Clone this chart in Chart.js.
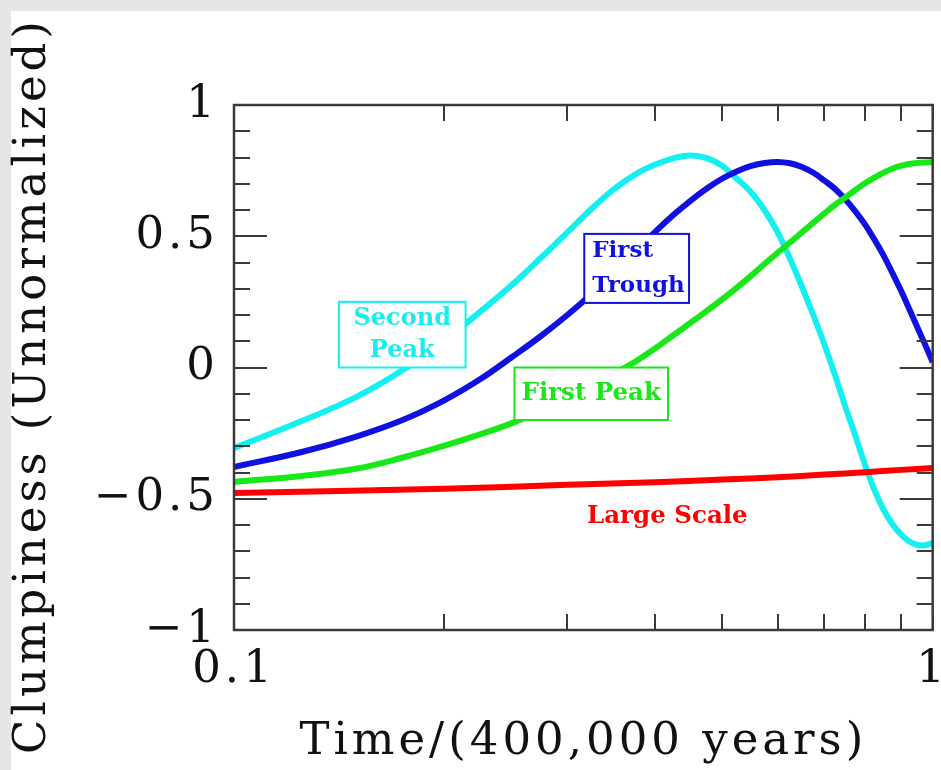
<!DOCTYPE html>
<html>
<head>
<meta charset="utf-8">
<title>Clumpiness</title>
<script src="https://cdn.jsdelivr.net/npm/chart.js@4.4.1/dist/chart.umd.min.js"></script>
<style>
    html, body { margin: 0; padding: 0; overflow: hidden; background: #fff; }
    canvas { display: block; }
</style>
</head>
<body>
<canvas id="myChart" width="960" height="770"></canvas>
<script>
// time, in units of 400,000 years
var times = [0.1, 0.125, 0.15, 0.175, 0.2, 0.225, 0.25, 0.275, 0.3, 0.325,
    0.35, 0.375, 0.4, 0.425, 0.45, 0.475, 0.5, 0.525, 0.55, 0.575,
    0.6, 0.625, 0.65, 0.675, 0.7, 0.725, 0.75, 0.775, 0.8, 0.825,
    0.85, 0.875, 0.9, 0.925, 0.95, 0.975, 1.0];

var secondPeak = [-0.307, -0.204, -0.111, -0.007, 0.103, 0.212, 0.315, 0.418, 0.515, 0.605,
    0.68, 0.735, 0.772, 0.797, 0.808, 0.798, 0.768, 0.718, 0.667, 0.598,
    0.515, 0.414, 0.307, 0.198, 0.087, -0.03, -0.15, -0.26, -0.37, -0.465,
    -0.54, -0.595, -0.635, -0.662, -0.676, -0.677, -0.668];

var firstTrough = [-0.379, -0.322, -0.262, -0.198, -0.125, -0.045, 0.04, 0.12, 0.2, 0.28,
    0.36, 0.44, 0.515, 0.58, 0.635, 0.682, 0.72, 0.748, 0.768, 0.779,
    0.783, 0.778, 0.764, 0.742, 0.712, 0.68, 0.64, 0.595, 0.545, 0.488,
    0.428, 0.362, 0.295, 0.225, 0.155, 0.088, 0.02];

var firstPeak = [-0.436, -0.413, -0.385, -0.342, -0.298, -0.255, -0.212, -0.165, -0.115, -0.068,
    -0.022, 0.022, 0.072, 0.122, 0.17, 0.216, 0.26, 0.305, 0.35, 0.395,
    0.437, 0.476, 0.515, 0.552, 0.587, 0.62, 0.648, 0.676, 0.702, 0.723,
    0.742, 0.757, 0.768, 0.775, 0.779, 0.781, 0.782];

var scaleTimes = [0.1, 0.2, 0.3, 0.4, 0.5, 0.6, 0.7, 0.8, 0.9, 1.0];
var largeScale = [-0.478, -0.462, -0.447, -0.437, -0.427, -0.418, -0.408, -0.399, -0.39, -0.383];

var xTickValues = [0.1, 1];
var xTickText = ['0.1', '1'];
var yTickValues = [-1, -0.5, 0, 0.5, 1];
var yTickText = ['\u22121', '\u22120.5', '0', '0.5', '1'];

var xTitle = 'Time/(400,000 years)';
var yTitle = 'Clumpiness (Unnormalized)';

var cyan = 'rgb(20, 240, 240)';
var blue = 'rgb(16, 16, 225)';
var green = 'rgb(24, 232, 24)';
var red = 'rgb(255, 0, 0)';

// boxed labels, given in data coordinates: [t left, t right, y top, y bottom]
var notes = [
    {lines: ['Second', 'Peak'], color: cyan, box: [0.1413, 0.2145, 0.25, 0.0], align: 'center', frame: true, size: 24},
    {lines: ['First', 'Trough'], color: blue, box: [0.3172, 0.448, 0.509, 0.246], align: 'left', frame: true, size: 23},
    {lines: ['First Peak'], color: green, box: [0.252, 0.418, 0.0, -0.2], align: 'center', frame: true, size: 24.5},
    {lines: ['Large Scale'], color: red, box: [0.35, 0.497, -0.5, -0.64], align: 'center', frame: false, size: 24.5}
];

var axisFont = '"DejaVu Serif", serif';
var axisSize = 45;

function points(xs, ys) {
    var list = [];
    for (var i = 0; i < xs.length; i++) {
        list.push({x: xs[i], y: ys[i]});
    }
    return list;
}

function pickLabel(value, values, text) {
    for (var i = 0; i < values.length; i++) {
        if (Math.abs(value - values[i]) < 1e-6) {
            return text[i];
        }
    }
    return '';
}

function drawNotes(chart) {
    var ctx = chart.ctx;
    var xs = chart.scales.x;
    var ys = chart.scales.y;

    for (var i = 0; i < notes.length; i++) {
        var n = notes[i];
        var left = xs.getPixelForValue(n.box[0]);
        var right = xs.getPixelForValue(n.box[1]);
        var top = ys.getPixelForValue(n.box[2]);
        var bottom = ys.getPixelForValue(n.box[3]);

        ctx.save();
        ctx.letterSpacing = '0px';
        if (n.frame) {
            ctx.fillStyle = '#fff';
            ctx.fillRect(left, top, right - left, bottom - top);
            ctx.strokeStyle = n.color;
            ctx.lineWidth = 2;
            ctx.strokeRect(left, top, right - left, bottom - top);
        }
        ctx.fillStyle = n.color;
        ctx.font = 'bold ' + n.size + 'px "DejaVu Serif"';
        ctx.textBaseline = 'middle';
        ctx.textAlign = n.align;
        var tx = (n.align == 'left') ? left + 8 : (left + right) / 2;
        var h = (bottom - top) / n.lines.length;
        for (var j = 0; j < n.lines.length; j++) {
            ctx.fillText(n.lines[j], tx, top + h * (j + 0.5));
        }
        ctx.restore();
    }
}

function drawFrame(chart) {
    var ctx = chart.ctx;
    var a = chart.chartArea;
    var xs = chart.scales.x;
    var ys = chart.scales.y;

    ctx.save();
    ctx.strokeStyle = '#3a3a3a';
    ctx.lineWidth = 2;
    ctx.beginPath();
    // inward ticks, long ones at every 0.5
    ys.ticks.forEach(function(t) {
        var py = Math.round(ys.getPixelForValue(t.value));
        var len = (Math.round(t.value * 10) % 5 == 0) ? 33 : 16;
        ctx.moveTo(a.left, py);
        ctx.lineTo(a.left + len, py);
        ctx.moveTo(a.right, py);
        ctx.lineTo(a.right - len, py);
    });
    xs.ticks.forEach(function(t) {
        var px = Math.round(xs.getPixelForValue(t.value));
        ctx.moveTo(px, a.bottom);
        ctx.lineTo(px, a.bottom - 16);
        ctx.moveTo(px, a.top);
        ctx.lineTo(px, a.top + 16);
    });
    ctx.stroke();
    ctx.lineWidth = 2.5;
    ctx.strokeRect(a.left, a.top, a.right - a.left, a.bottom - a.top);
    ctx.restore();
}

// y title sits a little below the middle of the axis in the original
function drawYTitle(chart) {
    var ctx = chart.ctx;
    var a = chart.chartArea;
    ctx.save();
    ctx.letterSpacing = '4px';
    ctx.font = axisSize + 'px ' + axisFont;
    ctx.fillStyle = '#111';
    ctx.textAlign = 'center';
    ctx.textBaseline = 'middle';
    ctx.translate(33, (a.top + a.bottom) / 2 + 18);
    ctx.rotate(-Math.PI / 2);
    ctx.fillText(yTitle, 0, 0);
    ctx.restore();
}

var decor = {
    id: 'decor',
    beforeDraw: function(chart) {
        var ctx = chart.ctx;
        ctx.save();
        ctx.fillStyle = '#e6e6e6';
        ctx.fillRect(0, 0, chart.width, chart.height);
        ctx.fillStyle = '#fff';
        ctx.fillRect(11, 11, chart.width, chart.height);
        ctx.restore();
        // the axis lettering is set wide, like the original
        ctx.letterSpacing = '4px';
    },
    afterDatasetsDraw: function(chart) {
        drawNotes(chart);
        drawFrame(chart);
    },
    afterDraw: function(chart) {
        drawYTitle(chart);
    }
};

function lineSet(label, xs, ys, color) {
    return {
        label: label,
        data: points(xs, ys),
        borderColor: color,
        backgroundColor: color,
        borderWidth: 6,
        pointRadius: 0,
        tension: 0.4,
        fill: false
    };
}

var ctx = document.getElementById('myChart').getContext('2d');
var myChart = new Chart(ctx, {
    type: 'line',
    data: {
        datasets: [
            lineSet('Large Scale', scaleTimes, largeScale, red),
            lineSet('First Peak', times, firstPeak, green),
            lineSet('First Trough', times, firstTrough, blue),
            lineSet('Second Peak', times, secondPeak, cyan)
        ]
    },
    options: {
        responsive: false,
        animation: false,
        devicePixelRatio: 1,
        layout: {
            padding: {left: 0, top: 105, right: 26, bottom: 0}
        },
        plugins: {
            legend: {display: false},
            tooltip: {enabled: false}
        },
        scales: {
            x: {
                type: 'logarithmic',
                min: 0.1,
                max: 1,
                grid: {display: false, drawTicks: false},
                border: {display: false},
                afterFit: function(scale) { scale.height = 140; },
                afterBuildTicks: function(scale) {
                    // only 0.1, 0.2 ... 1
                    scale.ticks = scale.ticks.filter(function(t) {
                        var k = t.value * 10;
                        return Math.abs(k - Math.round(k)) < 1e-6;
                    });
                },
                ticks: {
                    autoSkip: false,
                    maxRotation: 0,
                    padding: 13,
                    color: '#111',
                    font: {family: axisFont, size: axisSize},
                    callback: function(value) { return pickLabel(value, xTickValues, xTickText); }
                },
                title: {
                    display: true,
                    text: xTitle,
                    color: '#111',
                    font: {family: axisFont, size: axisSize},
                    padding: {top: 0, bottom: 1}
                }
            },
            y: {
                min: -1,
                max: 1,
                grid: {display: false, drawTicks: false},
                border: {display: false},
                afterFit: function(scale) { scale.width = 234; },
                ticks: {
                    stepSize: 0.1,
                    autoSkip: false,
                    padding: 15,
                    color: '#111',
                    font: {family: axisFont, size: axisSize},
                    callback: function(value) { return pickLabel(value, yTickValues, yTickText); }
                },
                title: {display: false}
            }
        }
    },
    plugins: [decor]
});
</script>
</body>
</html>
